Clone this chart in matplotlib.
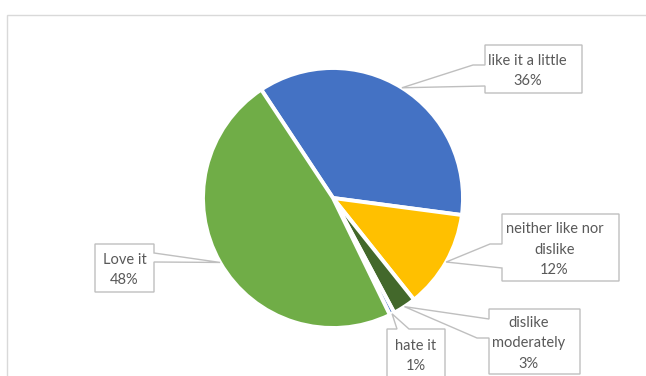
import numpy as np
import matplotlib.pyplot as plt
from matplotlib.patches import Polygon, Rectangle

# Survey answers (share of respondents, %)
labels = ["like it a little", "neither like nor\ndislike", "dislike\nmoderately", "hate it", "Love it"]
values = [36.4, 12.2, 2.9, 0.6, 47.9]
colors = ["#4472C4", "#FFC000", "#43682B", "#4472C4", "#70AD47"]

W, H = 646, 376
CX, CY, R = 333, 198, 130  # pie centre / radius in pixels (y from top)

# callout outlines in pixels (y from top); None marks where the pointer tip goes
callouts = [
    [(485, 45), (582, 45), (582, 93), (485, 93), (485, 86), None, (473, 65), (485, 65)],
    [(502, 214), (619, 214), (619, 281), (502, 281), (502, 268), None, (490, 244), (502, 244)],
    [(489, 309), (580, 309), (580, 374), (489, 374), (489, 338), (477, 338), None, (489, 319)],
    [(387, 329), (397, 329), None, (409, 329), (445, 329), (445, 379), (387, 379)],
    [(95, 244), (154, 244), (154, 253), None, (154, 262), (154, 292), (95, 292)],
]

plt.rcParams['font.family'] = ['Lato', 'DejaVu Sans']

fig = plt.figure(figsize=(W / 100, H / 100), dpi=100)
ax = fig.add_axes([0, 0, 1, 1])

wedges, _ = ax.pie(values, colors=colors, startangle=123.5, counterclock=False,
                   center=(CX, H - CY), radius=R,
                   wedgeprops=dict(edgecolor='white', linewidth=2.8))

for w, lab, val, outline in zip(wedges, labels, values, callouts):
    mid = np.deg2rad((w.theta1 + w.theta2) / 2)
    tip = (CX + R * np.cos(mid), CY - R * np.sin(mid))
    pts = [tip if p is None else p for p in outline]
    pts = [(x, H - y) for x, y in pts]
    ax.add_patch(Polygon(pts, closed=True, facecolor='white', edgecolor='#BFBFBF',
                         linewidth=1.0, zorder=3, clip_on=False))
    box = [p for p in outline if p is not None]
    xs = [p[0] for p in box]
    ys = [p[1] for p in box]
    tx = (min(xs) + max(xs)) / 2
    ty = (min(ys) + max(ys)) / 2 + 2
    ax.text(tx, H - ty, f"{lab}\n{val:.0f}%", ha='center', va='center',
            multialignment='center', fontsize=10.5, color='#595959',
            linespacing=1.6, zorder=4)

# chart area border
ax.add_patch(Rectangle((7, -20), 700, H - 15 + 20, fill=False,
                       edgecolor='#D9D9D9', linewidth=1.0, clip_on=False))

ax.set_xlim(0, W)
ax.set_ylim(0, H)
ax.set_aspect('equal')
ax.axis('off')

fig.savefig('out.png', dpi=100)
